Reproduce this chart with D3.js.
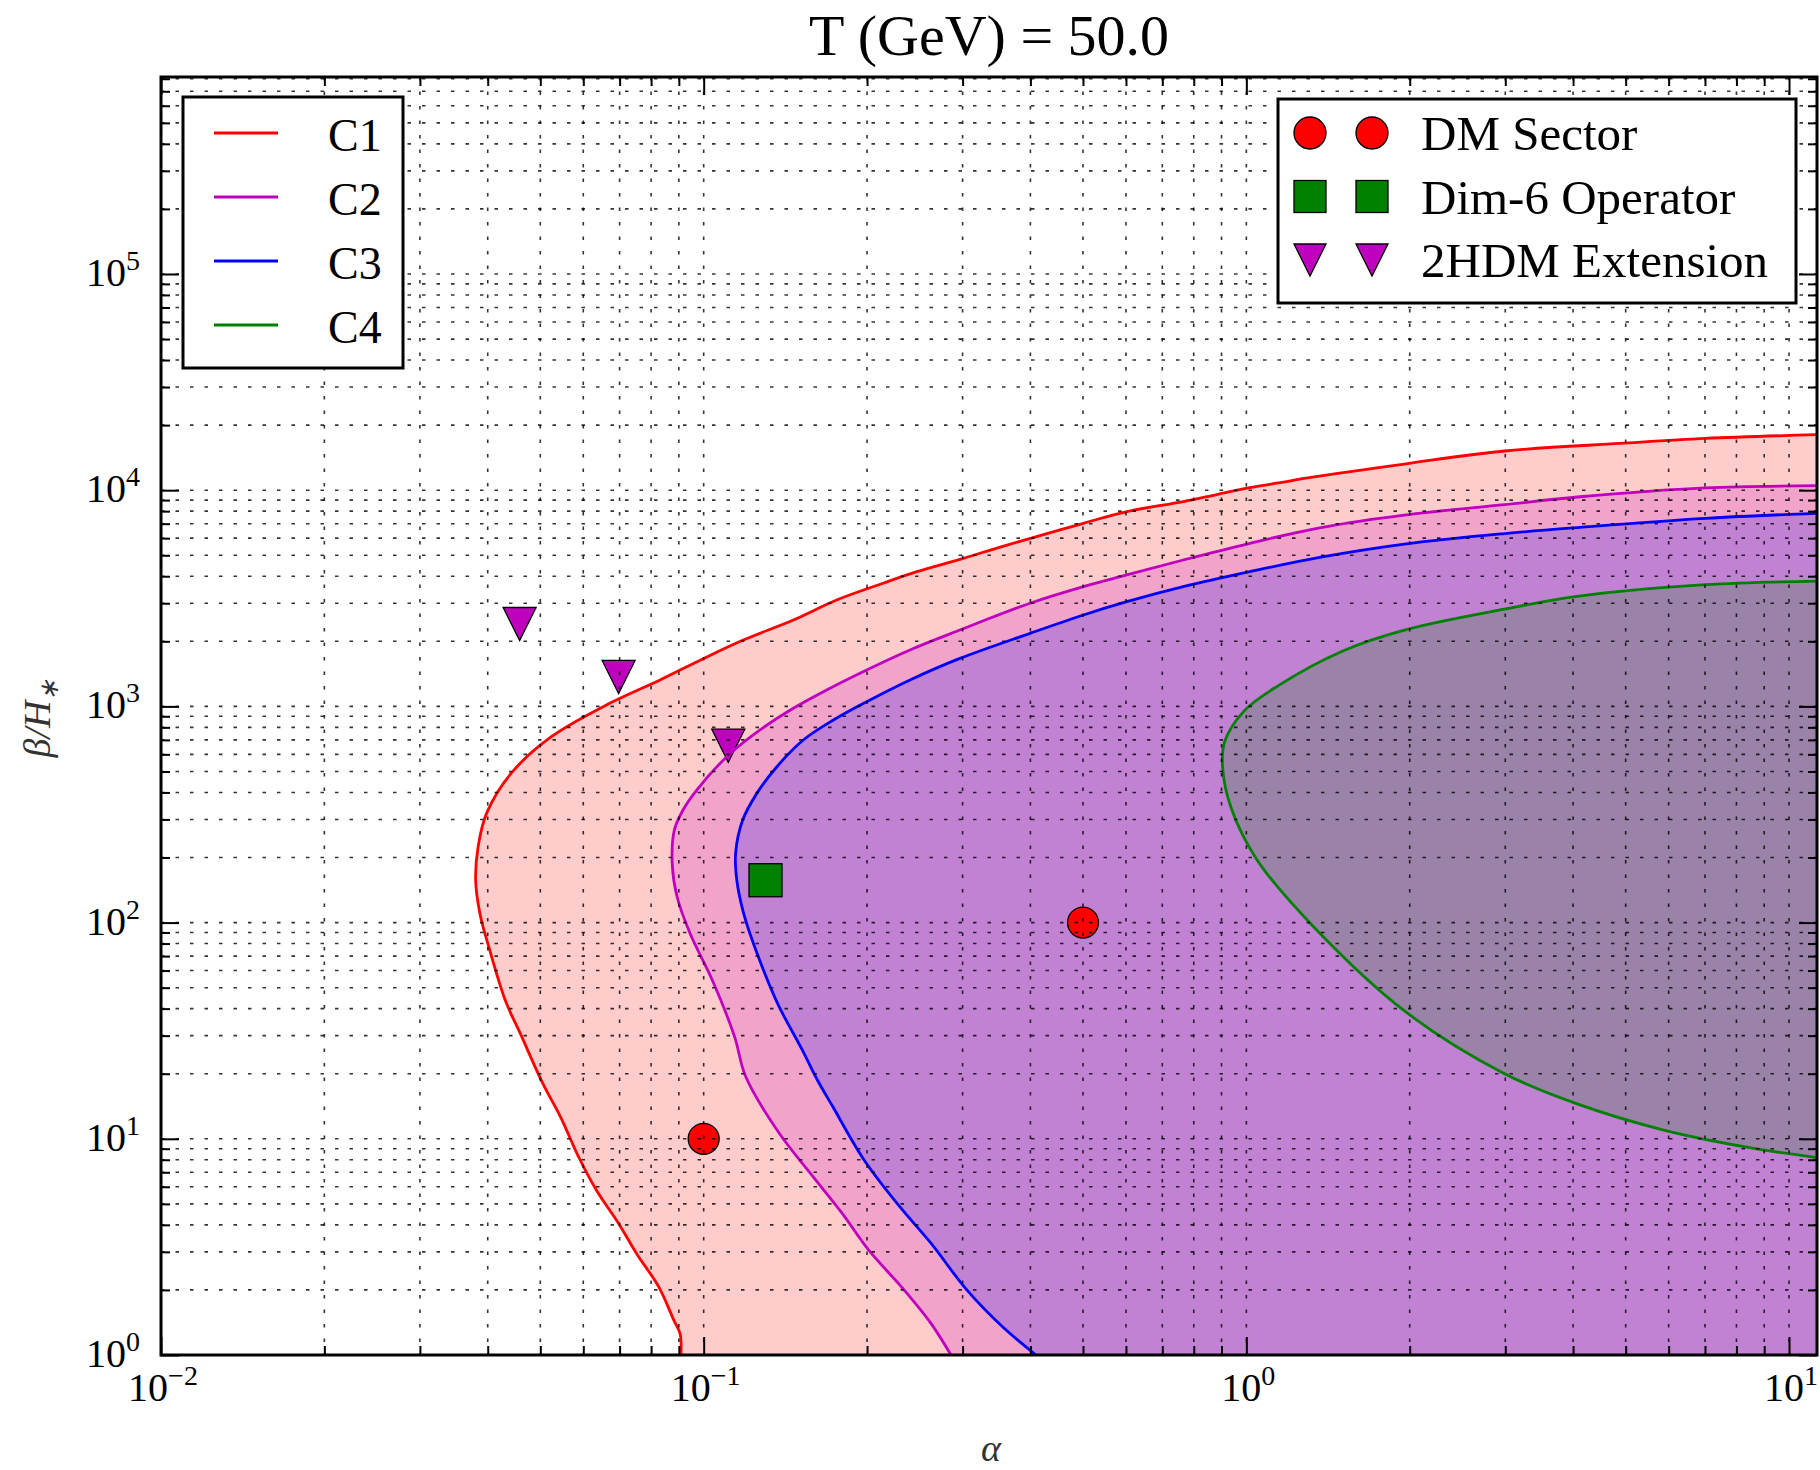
<!DOCTYPE html>
<html>
<head>
<meta charset="utf-8">
<script src="https://cdn.jsdelivr.net/npm/d3@7"></script>
<style>
  body { margin: 0; background: #fff; }
  svg text { font-family: "Liberation Serif", "Times New Roman", serif; fill: #000; }
</style>
</head>
<body>
<svg id="chart" width="1820" height="1470"></svg>
<script>
// Contour boundaries in (alpha, beta/H*) space
const c1Boundary = [[0.0908,1],[0.0905,1.25],[0.0881,1.45],[0.0826,2.07],[0.0752,2.95],[0.0697,4.06],[0.0634,5.8],[0.0588,8.26],[0.0545,12.6],[0.0505,18.1],[0.0459,30.8],[0.0432,43],[0.0402,77],[0.0387,110],[0.0380,157],[0.0384,224],[0.0398,320],[0.0442,491],[0.0524,724],[0.0671,1033],[0.0831,1325],[0.100,1667],[0.1183,2028],[0.1463,2510],[0.1758,3105],[0.214,3710],[0.247,4200],[0.301,4840],[0.347,5400],[0.400,5990],[0.501,7030],[0.602,7960],[0.765,8860],[0.882,9550],[1.015,10280],[1.145,10800],[1.323,11500],[1.97,13250],[2.99,15180],[4.88,16460],[7.01,17370],[11.26,18060]];
const c2Boundary = [[0.2856,1],[0.2623,1.40],[0.234,2.0],[0.2013,3.06],[0.180,4.52],[0.1573,6.92],[0.1378,10.6],[0.1195,19.4],[0.114,29.7],[0.1037,54.3],[0.0944,89],[0.0893,132],[0.0875,188],[0.0883,268],[0.0915,330],[0.0971,410],[0.1103,585],[0.127,778],[0.1463,980],[0.1685,1191],[0.1997,1474],[0.240,1824],[0.2966,2255],[0.3995,3000],[0.501,3580],[0.602,4055],[0.765,4755],[1.015,5680],[1.372,6715],[1.97,7690],[2.99,8570],[4.07,9300],[7.01,10250],[11.26,10490]];
const c3Boundary = [[0.4095,1],[0.3554,1.35],[0.3054,2.0],[0.2623,3.29],[0.2298,4.85],[0.1975,7.98],[0.1729,14.1],[0.162,18.7],[0.152,25.7],[0.137,42],[0.1254,72.1],[0.1185,110],[0.1151,157],[0.1145,209],[0.118,298],[0.1253,396],[0.1364,526],[0.1526,699],[0.1734,865],[0.1997,1051],[0.240,1325],[0.2966,1667],[0.3995,2178],[0.501,2648],[0.602,3050],[0.765,3580],[1.015,4200],[1.372,4900],[1.97,5645],[2.99,6300],[4.07,6715],[7.01,7410],[11.26,7820]];
const c4Boundary = [[11.26,3800],[7.01,3655],[4.07,3227],[2.99,2818],[1.97,2265],[1.502,1800],[1.145,1247],[0.990,951],[0.912,686],[0.904,523],[0.938,338],[1.045,196],[1.323,97],[1.97,38.5],[2.99,20.0],[4.07,14.5],[5.85,11.0],[8.41,9.12],[11.26,8.19]];

// Benchmark points
const dmSector = [[0.1,10],[0.5,100]];
const dim6Operator = [[0.13,157]];
const twoHdmExtension = [[0.0458,2405],[0.0697,1368],[0.111,658]];

const contourNames = ["C1","C2","C3","C4"];
const contourColors = ["#ff0000","#bf00bf","#0000ff","#008000"];
const pointNames = ["DM Sector","Dim-6 Operator","2HDM Extension"];
const pointColors = ["#ff0000","#008000","#bf00bf"];

const xTickExponents = [-2,-1,0,1];
const yTickExponents = [0,1,2,3,4,5];
const titleText = "T (GeV) = 50.0";

const xDomain = [0.01, 11.26];
const yDomain = [1, 8.15e5];

const L = 161, R = 1817, T = 77, B = 1355;
const svg = d3.select("#chart");
const x = d3.scaleLog().domain(xDomain).range([L, R]);
const y = d3.scaleLog().domain(yDomain).range([B, T]);

svg.append("defs").append("clipPath").attr("id","plotClip")
  .append("rect").attr("x",L).attr("y",T).attr("width",R-L).attr("height",B-T);

const plot = svg.append("g").attr("clip-path","url(#plotClip)");
const line = d3.line().x(d => x(d[0])).y(d => y(d[1])).curve(d3.curveCatmullRom.alpha(0.5));
const boundaries = [c1Boundary, c2Boundary, c3Boundary, c4Boundary];

// filled regions (translucent overlays)
boundaries.forEach((b, i) => {
  let d = line(b);
  if (i < 3) d += `L${x(xDomain[1])},${y(yDomain[0])}Z`; else d += "Z";
  plot.append("path").attr("d", d).attr("fill", contourColors[i]).attr("fill-opacity", 0.2).attr("stroke","none");
});

// benchmark markers
const markerG = plot.append("g");
function drawMarker(g, type, cx, cy, color, s) {
  if (type === 0) g.append("circle").attr("cx",cx).attr("cy",cy).attr("r",s/2)
      .attr("fill",color).attr("stroke","#000").attr("stroke-width",1.3);
  else if (type === 1) g.append("rect").attr("x",cx-s/2).attr("y",cy-s/2).attr("width",s).attr("height",s)
      .attr("fill",color).attr("stroke","#000").attr("stroke-width",1.3);
  else g.append("path").attr("d",`M${cx-s/2},${cy-s/2}L${cx+s/2},${cy-s/2}L${cx},${cy+s/2}Z`)
      .attr("fill",color).attr("stroke","#000").attr("stroke-width",1.3);
}
[dmSector, dim6Operator, twoHdmExtension].forEach((pts, k) => {
  pts.forEach(p => drawMarker(markerG, k, x(p[0]), y(p[1]), pointColors[k], k === 0 ? 31 : 33));
});

// grid at major and minor decades
const xGridVals = [], yGridVals = [];
for (let e = -2; e <= 1; e++) for (let m = 1; m <= 9; m++) { const v = m * Math.pow(10, e); if (v >= xDomain[0] && v <= xDomain[1]) xGridVals.push(v); }
for (let e = 0; e <= 5; e++) for (let m = 1; m <= 9; m++) { const v = m * Math.pow(10, e); if (v >= yDomain[0] && v <= yDomain[1]) yGridVals.push(v); }
const gridG = svg.append("g").attr("stroke","#000").attr("stroke-width",1.6).attr("stroke-dasharray","3.5,11").attr("stroke-opacity",0.8);
xGridVals.forEach(v => gridG.append("line").attr("x1",x(v)).attr("x2",x(v)).attr("y1",T).attr("y2",B));
yGridVals.forEach(v => gridG.append("line").attr("y1",y(v)).attr("y2",y(v)).attr("x1",L).attr("x2",R));

// contour lines
boundaries.forEach((b, i) => {
  plot.append("path").attr("d", line(b)).attr("fill","none").attr("stroke",contourColors[i]).attr("stroke-width",2.8);
});

// axes with inward ticks on all four sides
const majorX = xTickExponents.map(e => Math.pow(10, e));
const majorY = yTickExponents.map(e => Math.pow(10, e));
const minorX = xGridVals.filter(v => !majorX.some(m => Math.abs(m - v) < 1e-12));
const minorY = yGridVals.filter(v => !majorY.some(m => Math.abs(m - v) < 1e-9));
function addAxis(gen, tx, ty) {
  const g = svg.append("g").attr("transform",`translate(${tx},${ty})`).call(gen);
  g.select(".domain").remove();
  g.selectAll(".tick line").attr("stroke","#000").attr("stroke-width",2);
  g.selectAll(".tick text").remove();
}
addAxis(d3.axisBottom(x).tickValues(majorX).tickSize(-18).tickFormat(""), 0, B);
addAxis(d3.axisBottom(x).tickValues(minorX).tickSize(-9).tickFormat(""), 0, B);
addAxis(d3.axisTop(x).tickValues(majorX).tickSize(-18).tickFormat(""), 0, T);
addAxis(d3.axisTop(x).tickValues(minorX).tickSize(-9).tickFormat(""), 0, T);
addAxis(d3.axisLeft(y).tickValues(majorY).tickSize(-18).tickFormat(""), L, 0);
addAxis(d3.axisLeft(y).tickValues(minorY).tickSize(-9).tickFormat(""), L, 0);
addAxis(d3.axisRight(y).tickValues(majorY).tickSize(-18).tickFormat(""), R, 0);
addAxis(d3.axisRight(y).tickValues(minorY).tickSize(-9).tickFormat(""), R, 0);

svg.append("rect").attr("x",L).attr("y",T).attr("width",R-L).attr("height",B-T)
  .attr("fill","none").attr("stroke","#000").attr("stroke-width",3);

// tick labels as powers of ten
function powerLabel(sel, e) {
  sel.append("tspan").text("10");
  sel.append("tspan").attr("dy",-16).attr("font-size",28).text(e < 0 ? "\u2212" + (-e) : String(e));
}
xTickExponents.forEach(e => {
  const t = svg.append("text").attr("x", x(Math.pow(10,e)) + 2).attr("y", B + 46)
    .attr("text-anchor","middle").attr("font-size",40);
  powerLabel(t, e);
});
yTickExponents.forEach(e => {
  const t = svg.append("text").attr("x", 140).attr("y", y(Math.pow(10,e)) + 12)
    .attr("text-anchor","end").attr("font-size",40);
  powerLabel(t, e);
});

// title and axis labels
svg.append("text").attr("x",(L+R)/2).attr("y",55).attr("text-anchor","middle").attr("font-size",58).text(titleText);
svg.append("text").attr("x",991).attr("y",1461).attr("text-anchor","middle").attr("font-size",38)
  .attr("font-style","italic").style("fill","#333").text("\u03b1");
const yl = svg.append("text").attr("transform","translate(50,718) rotate(-90)").attr("text-anchor","middle")
  .attr("font-size",38).attr("font-style","italic").style("fill","#333");
yl.append("tspan").text("\u03b2/H");
yl.append("tspan").attr("dy",8).attr("font-size",26).text("\u2217");

// legend for the contours
const leg1 = svg.append("g");
leg1.append("rect").attr("x",183).attr("y",97).attr("width",220).attr("height",271)
  .attr("fill","#fff").attr("stroke","#000").attr("stroke-width",3);
contourNames.forEach((n, i) => {
  const cy = 133 + 64 * i;
  leg1.append("line").attr("x1",214).attr("x2",278).attr("y1",cy).attr("y2",cy)
    .attr("stroke",contourColors[i]).attr("stroke-width",2.8);
  leg1.append("text").attr("x",328).attr("y",cy + 18).attr("font-size",46).text(n);
});

// legend for the benchmark points
const leg2 = svg.append("g");
leg2.append("rect").attr("x",1278).attr("y",99).attr("width",518).attr("height",204)
  .attr("fill","#fff").attr("stroke","#000").attr("stroke-width",3);
pointNames.forEach((n, k) => {
  const cy = 133 + 63.5 * k;
  [1310, 1372].forEach(cx => drawMarker(leg2, k, cx, cy, pointColors[k], 32));
  leg2.append("text").attr("x",1421).attr("y",cy + 17).attr("font-size",49).text(n);
});
</script>
</body>
</html>
